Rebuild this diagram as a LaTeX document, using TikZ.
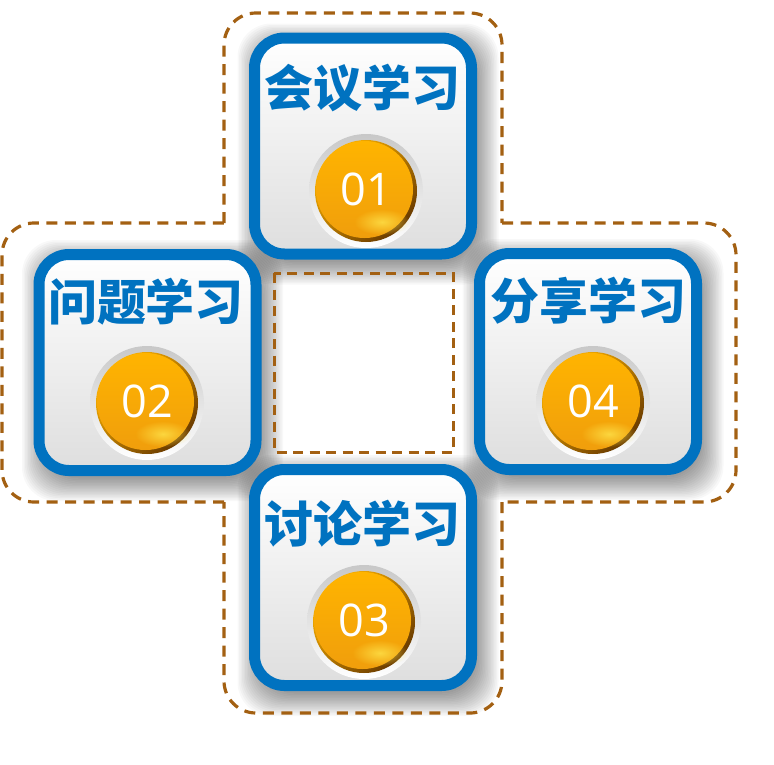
\documentclass[tikz,border=0pt]{standalone}
\usepackage{fontspec}
\newfontfamily\cjk{Noto Sans CJK SC}
\newfontfamily\numf{Open Sans}
\usetikzlibrary{fadings,calc}
\definecolor{bblue}{RGB}{0,114,192}
\definecolor{dbrown}{RGB}{163,96,18}
\definecolor{boxgray}{RGB}{222,222,222}
\definecolor{ringtop}{RGB}{200,200,200}
\definecolor{ballA}{RGB}{255,180,0}
\definecolor{ballB}{RGB}{240,158,12}
\definecolor{rimc}{RGB}{105,58,0}
\definecolor{glow}{RGB}{255,232,80}
\tikzfading[name=softdot, inner color=transparent!0, outer color=transparent!100]
\tikzset{
  box/.style={draw=bblue, line width=11pt, rounded corners=30pt,
    minimum width=217pt, minimum height=216pt, inner sep=0pt,
    top color=white, bottom color=boxgray},
  shadowlayer/.style={fill=black, opacity=0.026, rounded corners=34pt},
  title/.style={font=\cjk\bfseries\fontsize{49}{49}\selectfont, text=bblue, inner sep=0pt},
  num/.style={font=\numf\fontsize{45}{45}\selectfont, inner sep=0pt},
  dashline/.style={draw=dbrown, line width=3.2pt, dash pattern=on 11pt off 7.5pt, rounded corners=32pt},
  innerdash/.style={draw=dbrown, line width=3pt, dash pattern=on 10pt off 6.5pt}
}
\newcommand\boxshadow[1]{%
  \foreach \i in {0,...,15}{%
    \pgfmathsetmacro\dd{108+\i*1.5}%
    \fill[shadowlayer] ($#1+(5-\dd,8-\dd)$) rectangle ($#1+(5+\dd,8+\dd)$);
  }%
}
\newcommand\ballat[3]{%
  \coordinate (#1) at #2;
  \shade[top color=ringtop, bottom color=white] (#1) circle (57pt);
  \shade[top color=ballA, bottom color=rimc, shading angle=45] (#1) circle (51pt);
  \shade[top color=ballA, bottom color=ballB] ($(#1)+(-1.5,-1.5)$) circle (48.5pt);
  \fill[glow, path fading=softdot, opacity=0.75] ($(#1)+(16,31)$) ellipse (28pt and 13pt);
  \node[num, text=white] (#1n) at ($(#1)+(0,-2)$) {#3};
}
\begin{document}
\begin{tikzpicture}[x=1pt,y=-1pt]
\useasboundingbox (0,0) rectangle (774,764);
\fill[white] (0,0) rectangle (774,764);
% shadows
\boxshadow{(363,146)}
\boxshadow{(147.5,362.5)}
\boxshadow{(588,361.5)}
\boxshadow{(363,577.5)}
% boxes
\node[box] (b1) at (363,146) {};
\node[box] (b2) at (147.5,362.5) {};
\node[box] (b4) at (588,361.5) {};
\node[box] (b3) at (363,577.5) {};
% titles
\node[title] (t1) at (362,88) {会议学习};
\node[title] (t2) at (146,302) {问题学习};
\node[title] (t4) at (588,301) {分享学习};
\node[title] (t3) at (362,524) {讨论学习};
% balls
\ballat{c1}{(366,191)}{01}
\ballat{c2}{(147,403)}{02}
\ballat{c3}{(364,622)}{03}
\ballat{c4}{(593,403)}{04}
% dashed outline
\coordinate (p1) at (224,223);
\coordinate (p2) at (502,223);
\coordinate (p3) at (502,502);
\coordinate (p4) at (224,502);
\draw[dashline] (p1) -- (224,13) -- (502,13) -- (p2);
\draw[dashline] (p2) -- (736,223) -- (736,502) -- (p3);
\draw[dashline] (p3) -- (502,713) -- (224,713) -- (p4);
\draw[dashline] (p4) -- (2,502) -- (2,223) -- (p1);
\draw[innerdash] (274,273) rectangle (453,452);
\end{tikzpicture}
\end{document}
